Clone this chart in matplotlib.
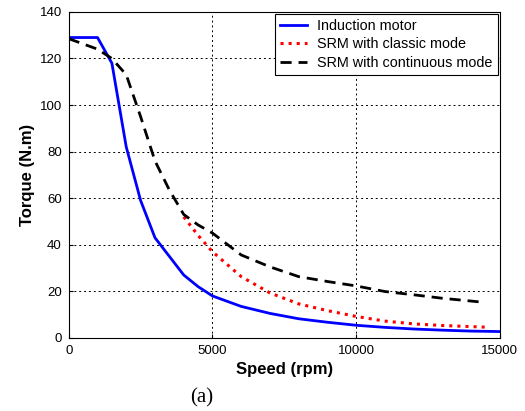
import numpy as np
import matplotlib
matplotlib.use('Agg')
import matplotlib.pyplot as plt

# Induction motor
im_speed = [0, 1000, 1500, 2000, 2500, 3000, 3500, 4000, 4500, 5000, 6000, 7000,
            8000, 9000, 10000, 11000, 12000, 13000, 14000, 15000]
im_torque = [129, 129, 118, 82, 59, 43, 35, 27, 22, 18, 13.5, 10.5,
             8.2, 6.7, 5.4, 4.5, 3.8, 3.3, 2.9, 2.7]

# SRM classic mode (hidden under the continuous curve below 4000 rpm)
cl_speed = [4000, 4500, 5000, 6000, 7000, 8000, 9000, 10000, 11000, 12000, 13000, 14500]
cl_torque = [52, 44, 37, 26.3, 19.3, 14.6, 11.7, 9.2, 7.2, 6.0, 5.3, 4.6]

# SRM continuous mode
co_speed = [0, 1000, 1500, 2000, 2500, 3000, 3500, 4000, 4500, 5000, 6000, 7000, 8000,
            9000, 10000, 11000, 12000, 13000, 14500]
co_torque = [128.5, 124, 120, 113, 95, 76, 63.5, 53, 48.5, 45, 35.6, 30.5, 26.3,
             24.2, 22.3, 19.9, 18.5, 17, 15.2]

fig = plt.figure(figsize=(5.25, 4.11), dpi=100)
ax = fig.add_axes([0.131, 0.178, 0.821, 0.793])

ax.plot(im_speed, im_torque, '-', color='#0000ff', linewidth=2.0, label='Induction motor')
ax.plot(cl_speed, cl_torque, ':', color='#ff0000', linewidth=2.2, label='SRM with classic mode')
ax.plot(co_speed, co_torque, '--', color='black', linewidth=2.0, dashes=(4, 2.5),
        label='SRM with continuous mode')

ax.set_xlim(0, 15000)
ax.set_ylim(0, 140)
ax.set_xticks([0, 5000, 10000, 15000])
ax.set_yticks(range(0, 141, 20))
ax.grid(True, linestyle=(0, (2, 3)), color='black', linewidth=0.7)
ax.tick_params(labelsize=9.5, direction='in', length=3, pad=5)
for lbl in ax.get_xticklabels() + ax.get_yticklabels():
    lbl.set_family('Liberation Sans')

ax.set_xlabel('Speed (rpm)', fontsize=12, fontweight='bold', family='Liberation Sans', labelpad=4)
ax.set_ylabel('Torque (N.m)', fontsize=12, fontweight='bold', family='Liberation Sans', labelpad=3)

leg = ax.legend(loc='upper right', fancybox=False, edgecolor='black', framealpha=1,
                prop={'family': 'Liberation Sans', 'size': 10.4}, handlelength=1.9,
                borderaxespad=0.15, labelspacing=0.3, borderpad=0.35, handletextpad=0.7)
leg.get_frame().set_linewidth(0.8)

fig.text(0.385, 0.02, '(a)', fontsize=15, family='Liberation Serif', ha='center')

plt.savefig('out.png', dpi=100)
